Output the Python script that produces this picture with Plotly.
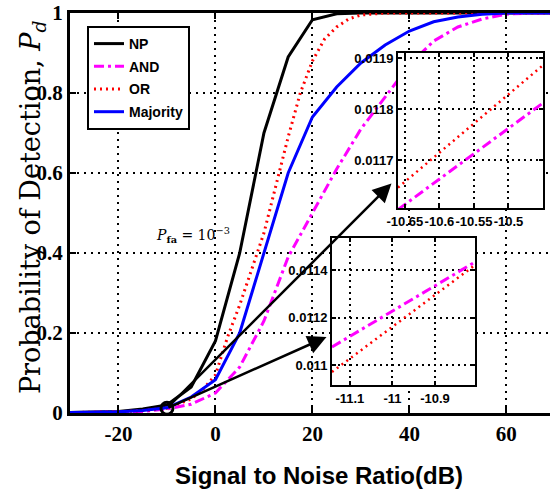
import plotly.graph_objects as go

# ---------------- data ----------------
snr = [-30, -25, -20, -15, -10, -5, 0, 5, 10, 15, 20, 25, 30, 35, 40, 45, 50, 55, 60, 65, 70]
pd_np = [0.001, 0.002, 0.004, 0.010, 0.020, 0.065, 0.18, 0.40, 0.70, 0.89, 0.983, 0.998,
         1, 1, 1, 1, 1, 1, 1, 1, 1]
pd_and = [0.001, 0.001, 0.002, 0.004, 0.010, 0.022, 0.05, 0.115, 0.23, 0.39, 0.50, 0.61,
          0.71, 0.79, 0.87, 0.93, 0.965, 0.985, 0.997, 1, 1]
pd_maj = [0.001, 0.002, 0.003, 0.006, 0.013, 0.040, 0.083, 0.20, 0.40, 0.60, 0.74, 0.815,
          0.875, 0.92, 0.955, 0.978, 0.99, 0.997, 1, 1, 1]

snr_or = [-30, -25, -20, -15, -10, -5, -2.5, 0, 2.5, 5, 7.5, 10, 12.5, 15, 17.5, 20, 22.5,
          25, 27.5, 30, 35, 40, 50, 60, 70]
pd_or = [0.001, 0.002, 0.003, 0.006, 0.012, 0.035, 0.06, 0.095, 0.19, 0.27, 0.36, 0.45, 0.57,
         0.69, 0.80, 0.88, 0.935, 0.965, 0.985, 0.995, 1, 1, 1, 1, 1]

marker_x = [-10]
marker_y = [0.012]

# inset 1 (upper)
in1_x = [-10.66, -10.45]
in1_or = [0.011646, 0.011886]
in1_and = [0.011603, 0.011812]
in1_xticks = [-10.65, -10.6, -10.55, -10.5]
in1_xlabels = ["-10.65", "-10.6", "-10.55", "-10.5"]
in1_yticks = [0.0117, 0.0118, 0.0119]
in1_ylabels = ["0.0117", "0.0118", "0.0119"]

# inset 2 (lower)
in2_x = [-11.142, -10.806]
in2_and = [0.011076, 0.011434]
in2_or = [0.010971, 0.011421]
in2_xticks = [-11.1, -11.0, -10.9]
in2_xlabels = ["-11.1", "-11", "-10.9"]
in2_yticks = [0.011, 0.0112, 0.0114]
in2_ylabels = ["0.011", "0.0112", "0.0114"]

main_xticks = [-20, 0, 20, 40, 60]
main_xlabels = ["-20", "0", "20", "40", "60"]
main_yticks = [0, 0.2, 0.4, 0.6, 0.8, 1]
main_ylabels = ["0", "0.2", "0.4", "0.6", "0.8", "1"]

# ---------------- styles ----------------
MAG = "#FF00FF"
RED = "#FF0000"
BLUE = "#0000FF"
DASHDOT = "10px,4px,3px,4px"
DOT = "2px,4px"

fig = go.Figure()
fig.add_trace(go.Scatter(x=snr, y=pd_np, mode="lines", name="NP", legendgroup="a",
                         line=dict(color="black", width=3)))
fig.add_trace(go.Scatter(x=snr, y=pd_and, mode="lines", name="AND", legendgroup="b",
                         line=dict(color=MAG, width=3, dash=DASHDOT)))
fig.add_trace(go.Scatter(x=snr_or, y=pd_or, mode="lines", name="OR", legendgroup="c",
                         line=dict(color=RED, width=3, dash=DOT)))
fig.add_trace(go.Scatter(x=snr, y=pd_maj, mode="lines", name="Majority", legendgroup="d",
                         line=dict(color=BLUE, width=3)))
fig.add_trace(go.Scatter(x=marker_x, y=marker_y, mode="markers", showlegend=False,
                         cliponaxis=False,
                         marker=dict(symbol="circle-open", size=12, color="black",
                                     line=dict(width=3, color="black"))))

# insets
fig.add_trace(go.Scatter(x=in1_x, y=in1_or, mode="lines", showlegend=False,
                         xaxis="x2", yaxis="y2", line=dict(color=RED, width=2.5, dash=DOT)))
fig.add_trace(go.Scatter(x=in1_x, y=in1_and, mode="lines", showlegend=False,
                         xaxis="x2", yaxis="y2", line=dict(color=MAG, width=3, dash=DASHDOT)))
fig.add_trace(go.Scatter(x=in2_x, y=in2_and, mode="lines", showlegend=False,
                         xaxis="x3", yaxis="y3", line=dict(color=MAG, width=3, dash=DASHDOT)))
fig.add_trace(go.Scatter(x=in2_x, y=in2_or, mode="lines", showlegend=False,
                         xaxis="x3", yaxis="y3", line=dict(color=RED, width=2.5, dash=DOT)))

serif_bold = dict(family="Liberation Serif", size=21, color="black", weight="bold")
sans_bold13 = dict(family="Liberation Sans", size=13, color="black", weight="bold")

main_axis_common = dict(showline=True, linecolor="black", linewidth=3,
                        ticks="inside", ticklen=6, tickwidth=2, tickcolor="black",
                        showgrid=True, gridcolor="black", gridwidth=2, griddash="2px,5px",
                        zeroline=False, tickfont=serif_bold, tickangle=0,
                        ticklabeloverflow="allow")

inset_axis_common = dict(showline=True, linecolor="black", linewidth=2, mirror="ticks",
                         ticks="inside", ticklen=4, tickwidth=1.5, tickcolor="black",
                         showgrid=True, gridcolor="black", gridwidth=1.5, griddash="2px,4px",
                         zeroline=False, tickfont=sans_bold13, tickangle=0)

fig.update_layout(
    width=550, height=492,
    margin=dict(l=70, r=0, t=13, b=79),
    paper_bgcolor="white", plot_bgcolor="white",
    showlegend=True,
    legend=dict(x=0.0354, y=0.9675, xanchor="left", yanchor="top",
                bgcolor="white", bordercolor="black", borderwidth=2,
                font=dict(family="Liberation Sans", size=14, color="black", weight="bold"),
                traceorder="grouped", tracegroupgap=1.5),
    xaxis=dict(range=[-30, 69], tickvals=main_xticks, ticktext=main_xlabels,
               mirror="ticks", **main_axis_common),
    yaxis=dict(range=[0, 1], tickvals=main_yticks, ticktext=main_ylabels,
               mirror=False, ticklabelstandoff=0, **main_axis_common),
    xaxis2=dict(domain=[0.6833, 0.9854], anchor="y2", range=[-10.66, -10.45],
                tickvals=in1_xticks, ticktext=in1_xlabels, **inset_axis_common),
    yaxis2=dict(domain=[0.5125, 0.9], anchor="x2", range=[0.011606, 0.01191],
                tickvals=in1_yticks, ticktext=in1_ylabels, **inset_axis_common),
    xaxis3=dict(domain=[0.5458, 0.84375], anchor="y3", range=[-11.142, -10.806],
                tickvals=in2_xticks, ticktext=in2_xlabels, **inset_axis_common),
    yaxis3=dict(domain=[0.07, 0.4375], anchor="x3", range=[0.010916, 0.011535],
                tickvals=in2_yticks, ticktext=in2_ylabels, **inset_axis_common),
)

annotations = [
    dict(text="Probability of Detection, <i>P<sub>d</sub></i>", xref="paper", yref="paper",
         x=-0.079, y=0.515, xanchor="center", yanchor="middle", textangle=-90,
         showarrow=False, font=dict(family="DejaVu Serif", size=27, color="black")),
    dict(text="Signal to Noise Ratio(dB)", xref="paper", yref="paper",
         x=0.519, y=-0.155, xanchor="center", yanchor="middle", showarrow=False,
         font=dict(family="Liberation Sans", size=24, color="black", weight="bold")),
    dict(text="<i>P</i><sub><b>fa</b></sub> = 10<sup>−3</sup>", xref="paper", yref="paper",
         x=0.256, y=0.445, xanchor="center", yanchor="middle", showarrow=False,
         font=dict(family="DejaVu Serif", size=14, color="black")),
    dict(x=36.3, y=0.574, ax=marker_x[0], ay=marker_y[0], xref="x", yref="y",
         axref="x", ayref="y", text="", showarrow=True, arrowhead=2, arrowsize=1.5,
         arrowwidth=2.5, arrowcolor="black", standoff=0, startstandoff=0),
    dict(x=22.9, y=0.19, ax=marker_x[0], ay=marker_y[0], xref="x", yref="y",
         axref="x", ayref="y", text="", showarrow=True, arrowhead=2, arrowsize=1.5,
         arrowwidth=2.5, arrowcolor="black", standoff=0, startstandoff=0),
]
fig.update_layout(annotations=annotations)

# remove the browser's default 8px body margin so the figure fills the window
fig.write_html("out.html", config={"displayModeBar": False},
               post_script="document.body.style.margin='0px';")
